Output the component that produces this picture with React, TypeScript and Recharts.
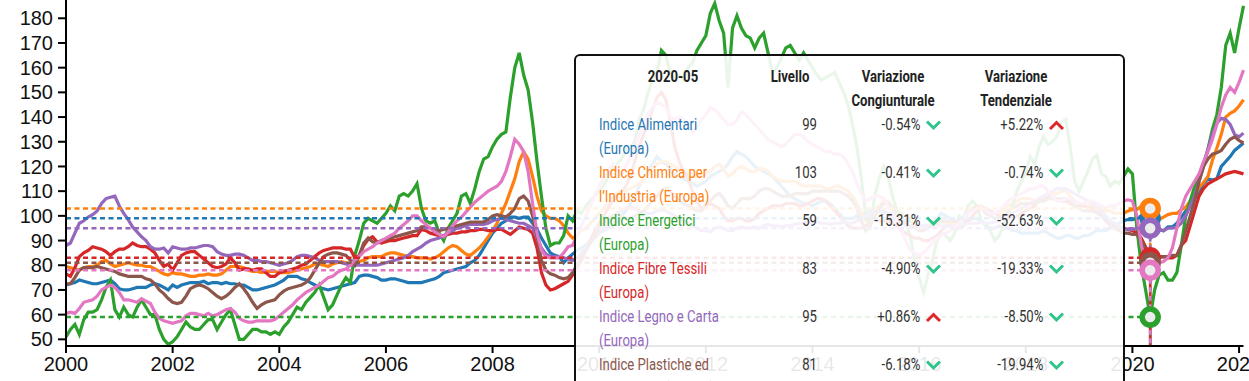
import React from "react"
import { LineChart, Line, XAxis, YAxis, ReferenceLine, ReferenceDot } from "recharts"

// monthly index values, 2000-01 .. 2022-02 (one row per year)
const alimentari = [
  72, 72.5, 73, 74, 73.5, 73, 72.5, 72.5, 73, 73.5, 74, 72.5,
  70.5, 70, 70, 70.5, 71, 71, 71, 72, 72.5, 72, 71, 70,
  72, 71, 72, 72.5, 73, 73, 73, 73.5, 72.5, 73, 73, 72.5,
  73, 72.5, 72.5, 72, 72, 71, 70, 70, 70.5, 71, 71.5, 72,
  73, 74, 75.5, 75.5, 75.5, 74.5, 74, 73, 72, 71, 70.5, 70,
  70.5, 71, 71.5, 72, 72.5, 73, 75.5, 76, 76, 75.5, 75, 74,
  74, 74.5, 74.5, 74, 73.5, 73, 73, 73, 73, 73.5, 74, 74.5,
  75.5, 77, 77.5, 78, 78.5, 79, 79.5, 81, 82, 84, 87, 90,
  93, 95, 97, 98, 99.5, 99.5, 99, 99.5, 99.5, 97, 94.5, 91,
  88, 85, 84, 83.5, 81, 83, 84.5, 86, 87, 88, 90, 92,
  93, 94, 95, 96, 98, 100, 102, 105, 108, 112, 115, 118,
  121, 124, 122, 121, 119, 117, 116, 115, 114, 113, 112, 113,
  114, 116, 117, 118, 119, 121, 124, 126, 125, 124, 122, 120,
  119, 118, 117, 116, 114, 112, 110, 108, 107, 106, 105, 105,
  104, 105, 106, 106, 105, 103, 101, 99, 99, 99, 100, 101,
  101, 102, 103, 102, 102, 101, 101, 99, 98, 98, 98, 97,
  96, 96, 96, 97, 99, 101, 100, 99, 98, 98, 98, 98,
  99, 99, 98, 96, 95, 95, 96, 95, 95, 94, 94, 93,
  93, 93, 93, 93, 94, 93, 92, 91, 91, 92, 92, 91,
  91, 92, 92, 93, 94.1, 94, 94, 95, 96, 97, 98, 98.5,
  98.5, 99, 100, 99.5, 99, 96, 94.5, 94, 95.5, 95.5, 97, 99.5,
  102, 104, 107, 110, 113, 115, 114.5, 115, 120, 122, 124, 126.5,
  128, 129.5,
]

const chimica = [
  79.5, 79, 78.5, 78, 79, 79.5, 79.5, 80, 81.5, 82, 80.5, 79.5,
  80, 80.5, 81, 80.5, 80, 80, 79.5, 79.5, 78.5, 77.5, 76.5, 76,
  77, 76.5, 76.5, 76, 75.5, 75.5, 76, 76, 76.5, 76, 76, 76.5,
  78, 79.5, 79.5, 79.5, 79, 78, 77.5, 77.5, 77, 77.5, 77.5, 77.5,
  77, 77, 77, 77.5, 78, 78.5, 79, 79.5, 80.5, 80.5, 80, 79.5,
  80.5, 81, 81.5, 81, 80.5, 80, 81.5, 82, 83, 83.5, 83.5, 83.5,
  84.5, 85, 85, 84.5, 84, 83.5, 83.5, 83, 83, 83, 82.5, 83,
  84, 85.5, 87, 88, 87.5, 86, 84.5, 84, 85.5, 87, 89, 91.5,
  94, 97, 101, 105, 110, 115, 122, 126, 123, 116, 108, 102,
  100, 99, 99, 98, 96, 93, 91, 92, 94, 95, 97, 99,
  101, 103, 105, 107, 109, 110, 110, 111, 112, 113, 115, 117,
  119, 121, 122, 122, 121, 120, 119, 118, 117, 117, 116, 116,
  117, 118, 120, 121, 119, 116, 117, 119, 120, 119, 118, 118,
  119, 119, 118, 116, 115, 114, 114, 114, 114, 113, 112, 112,
  112, 112, 112, 111, 111, 112, 112, 111, 110, 108, 105, 101,
  98, 100, 103, 104, 106, 106, 104, 102, 101, 100, 99, 97,
  96, 95, 96, 97, 98, 98, 97, 97, 97, 98, 99, 101,
  103, 104, 104, 103, 102, 101, 101, 102, 104, 105, 106, 107,
  107, 107, 106, 107, 108, 109, 109, 109, 110, 110, 108, 106,
  105, 104, 104, 104, 103.8, 103, 102, 102, 101, 101, 101, 102,
  102.5, 102.5, 104, 103.4, 103, 101, 98.5, 99.5, 100.5, 101, 101, 102.5,
  103.5, 106, 108, 111.5, 113.5, 116, 122.5, 127.5, 133, 140, 141.5, 142.5,
  144.5, 147,
]

const energetici = [
  51, 54, 56, 52, 58, 61, 61, 62, 66, 71, 74, 62,
  59, 63, 60, 59, 63, 66, 63, 60, 60, 54, 50, 48,
  49, 51, 54, 57, 55, 54, 54, 56, 58, 58, 54, 57,
  60, 62, 56, 50, 50, 52, 54, 54, 53, 53, 52, 53,
  52, 55, 57, 60, 63, 62, 65, 67, 69, 72, 67, 62,
  64, 68, 72, 75, 73, 84, 90, 97, 99, 98, 97, 99,
  101, 104, 102, 108, 109, 108, 110, 113, 103, 98, 97, 98,
  93, 90, 95, 98, 101, 108, 109, 105, 111, 118, 123, 124,
  128, 131, 133, 134, 148, 160, 166, 157, 151, 138, 122, 108,
  95, 88, 89, 89, 92, 100, 98, 102, 101, 104, 106, 108,
  110, 112, 116, 119, 121, 123, 127, 128, 130, 139, 143, 150,
  155, 158, 167, 165, 158, 155, 157, 155, 160, 162, 167, 170,
  173, 182, 186, 179, 174, 152, 176, 181, 176, 173, 172, 168,
  172, 174, 166, 158, 160, 164, 168, 169, 166, 163, 166, 163,
  160, 157, 155, 156, 157, 158, 154, 150, 145, 137, 128, 115,
  100, 96, 108, 115, 120, 116, 108, 102, 100, 97, 92, 82,
  75, 69, 76, 82, 90, 93, 92, 90, 93, 100, 99, 104,
  106, 104, 98, 96, 94, 90, 92, 96, 101, 104, 110, 114,
  118, 124, 121, 128, 132, 129, 130, 132, 138, 139, 128, 114,
  110, 114, 118, 123, 124.6, 117, 116, 112, 114, 113, 116, 119,
  117, 95, 80, 69.7, 59, 70, 76, 77, 74, 74, 77, 88,
  100, 106, 112, 116, 121, 127, 135, 141, 152, 169, 174, 166,
  176, 185,
]

const fibreTessili = [
  76.5, 75.5, 79, 83.5, 85, 86, 87.5, 87, 86.5, 85.5, 84, 85.5,
  86.5, 86.5, 87.5, 89, 88, 87.5, 87.5, 86.5, 85, 82, 79.5, 80.5,
  78, 81, 84, 85, 85.5, 85.5, 84, 82.5, 81, 79.5, 79, 79.5,
  80.5, 83, 81, 78, 78.5, 78.5, 78, 78.5, 78.5, 77, 75.5, 75.5,
  77, 77.5, 78, 78.5, 79, 80, 80.5, 82, 83.5, 85, 86, 86.5,
  87, 87, 87, 86.5, 86.5, 83, 84, 88, 90.5, 91.5, 89.5, 89,
  89.5, 90, 90, 90.5, 91, 91.5, 92, 92, 94.5, 94, 93, 92.5,
  92, 92, 92.5, 93, 93, 93.5, 93.5, 94, 94, 94.5, 94.5, 94,
  94, 94.5, 94.5, 93.5, 92.5, 94, 95.5, 95, 94.5, 93, 87, 77,
  72, 70, 70.5, 71.5, 72.5, 73.5, 76, 79, 82, 86, 90, 94,
  97, 100, 103, 106, 108, 110, 112, 116, 122, 128, 133, 138,
  143, 148, 150, 147, 138, 128, 122, 118, 115, 110, 106, 103,
  104, 105, 104, 103, 100, 98, 98, 99, 99, 98, 98, 99,
  101, 102, 103, 104, 104, 104, 105, 105, 105, 104, 104, 105,
  106, 107, 107, 106, 104, 102, 100, 98, 96, 95, 95, 95,
  96, 97, 99, 98, 98, 98, 97, 96, 94, 93, 92, 91,
  91, 90, 90, 91, 92, 94, 96, 96, 95, 95, 96, 98,
  100, 102, 103, 103, 102, 101, 100, 99, 99, 99, 100, 101,
  102, 103, 104, 106, 107, 108, 108, 107, 106, 106, 105, 104,
  104, 104, 103.5, 103, 102.9, 101, 99, 97, 96, 95.5, 95, 94.5,
  94, 93, 91, 87.3, 83, 82.5, 83, 83.5, 83, 83, 84, 88,
  90, 96, 102, 108, 111, 113, 114, 115, 116, 117, 117.5, 118,
  117.5, 117,
]

const legnoCarta = [
  88, 89, 93, 97, 98, 99.5, 100.5, 102, 105, 107, 107.5, 108,
  104, 101, 98.5, 95.5, 93.5, 91.5, 90, 87.5, 86.5, 86.5, 87, 85,
  87.5, 87, 86.5, 86.5, 87, 87, 87.5, 88, 88, 87.5, 85.5, 84.5,
  84, 84, 84.5, 84.5, 84, 83, 82, 82, 81.5, 81.5, 81, 80.5,
  80, 80.5, 81, 82, 83.5, 84, 84, 83.5, 83, 82, 81.5, 81.5,
  81.5, 81.5, 81, 80.5, 80, 80, 80, 80, 80, 80, 80, 80.5,
  81, 81.5, 82, 82.5, 83, 84, 85.5, 86.5, 87.5, 89, 90, 90.5,
  91, 92, 93, 94, 95, 95.5, 96, 96.5, 96.5, 96.5, 96.5, 97,
  98, 98.5, 99, 98.5, 98, 97.5, 97, 97, 96, 95, 91, 87,
  84.5, 83.5, 83.5, 83.5, 83, 82.5, 82, 83, 85, 87, 89, 91,
  93, 95, 97, 99, 101, 102, 103, 103.5, 103, 102, 101, 101,
  101, 102, 102.5, 102, 101, 100, 99, 98, 97, 96, 95, 94,
  94, 93.5, 95, 95.5, 95, 94, 94, 95, 95.5, 95, 95, 95.5,
  95, 96, 96.5, 96, 96, 95.5, 96, 96, 96.5, 97, 97, 97.5,
  97, 97.5, 97, 97, 96.5, 97, 97, 97.5, 97, 97, 98, 99,
  100, 101, 102, 102, 101, 100, 99, 98, 97, 96, 96, 96,
  96, 95.5, 96, 96, 96.5, 96, 96, 95.5, 96, 96, 96.5, 97,
  97, 97, 97.5, 97, 97, 97.5, 98, 99, 100, 101, 102, 103,
  104, 105, 106, 107, 108, 109, 110, 111, 111, 111, 110, 109,
  108, 107, 106, 105, 103.8, 102, 100, 98, 97, 96, 95, 94.5,
  94.5, 95, 95.5, 94.2, 95, 94.5, 94.5, 94, 95, 95, 95.5, 97,
  100, 104, 108, 114, 120, 127, 133, 137.5, 139.5, 139, 137, 133,
  132, 133.5,
]

const plastiche = [
  72.5, 72.5, 75, 78, 79, 79, 79, 79.5, 79, 78.5, 78, 77.5,
  76.5, 76, 75.5, 75.5, 75.5, 75.5, 74.5, 74, 72.5, 70, 68.5, 66.5,
  65, 64.5, 65, 67.5, 70.5, 71.5, 72, 71.5, 70.5, 69, 67.5, 66.5,
  67.5, 69, 71, 72.5, 70.5, 68, 65, 62.5, 64, 65, 65.5, 66,
  68, 69.5, 70.5, 71, 71.5, 72, 73, 75, 78, 81, 83.5, 84.5,
  85, 85, 84.5, 84, 82, 80, 84, 89, 91, 89.5, 89, 90,
  90.5, 91, 91.5, 92, 92.5, 93, 93.5, 94, 95.5, 95.5, 95, 94.5,
  94, 94.5, 95, 95.5, 96, 96.5, 97, 97.5, 97.5, 97.5, 97.5, 98.5,
  100, 100.5, 100, 99.5, 101, 103, 107, 108, 106, 100, 92, 82,
  78, 76.5, 76, 75, 74.5, 75, 77, 80, 83, 86, 89, 92,
  95, 97, 99, 100, 101, 100, 99, 99, 100, 101, 102, 104,
  106, 108, 110, 111, 110, 108, 106, 105, 104, 103, 102, 102,
  104, 106, 108, 109, 107, 104, 103, 105, 107, 107, 107, 108,
  110, 111, 111, 110, 109, 108, 108, 108, 109, 109, 109, 109,
  110, 110, 110, 110, 110, 110, 110, 109, 108, 106, 103, 98,
  94, 96, 100, 103, 105, 105, 103, 100, 98, 97, 96, 95,
  94, 94, 95, 96, 97, 98, 98, 98, 98, 98, 99, 101,
  103, 104, 103, 101, 100, 99, 99, 100, 102, 103, 104, 105,
  105, 105, 105, 106, 106, 107, 107, 107, 107, 107, 106, 104,
  103, 102, 102, 102, 101.2, 100, 98, 96, 95, 94, 93, 93,
  92.5, 92.5, 90, 86.3, 81, 82.5, 83.5, 83.5, 83.5, 84, 84, 88,
  94, 100, 106, 114, 120, 123, 125, 125.5, 126.5, 129, 131, 132,
  130.5, 129.5,
]

const altroIndice = [
  60.5, 61, 60.5, 62.5, 65, 65.5, 66, 67.5, 70, 71, 72, 71,
  69, 66, 66, 65.5, 65, 66.5, 65.5, 64.5, 61, 58.5, 57.5, 57,
  56.5, 57, 57.5, 59.5, 60.5, 60.5, 60, 59.5, 60.5, 59.5, 60, 61,
  62, 62.5, 61, 58.5, 57.5, 57, 57, 57.5, 57.5, 57.5, 57.5, 58,
  59.5, 61, 62.5, 64, 66, 67.5, 69, 70, 71, 72, 73.5, 75,
  75.5, 77, 78, 78.5, 80, 82, 83.5, 85.5, 86.5, 87.5, 89, 90,
  91, 92, 93, 95, 96.5, 98, 100, 100, 98, 96.5, 95, 93.5,
  92.5, 91.5, 93.5, 96, 98, 99.5, 101.5, 103.5, 105.5, 107, 108.5, 110,
  111, 112, 114, 118, 124, 131, 129, 126, 118, 105, 93, 86,
  83.5, 83, 83, 83, 85, 87.5, 88, 92, 96, 100, 104, 108,
  112, 115, 118, 121, 119, 117, 120, 124, 128, 133, 137, 141,
  144, 146, 145, 144, 140, 139, 140, 139, 137, 134, 136, 139,
  141, 144, 143, 141, 139, 137, 137, 139, 142, 141, 139, 137,
  135, 133, 131, 130, 129, 128, 129, 131, 133, 133, 132, 130,
  129, 128, 127, 126, 126, 125, 125, 124, 121, 118, 113, 109,
  106, 107, 108, 108, 107, 104, 101, 98, 94, 90, 86, 85,
  84, 85, 87, 89, 91, 92, 93, 94, 95, 97, 99, 101,
  102, 103, 103, 102, 101, 101, 102, 104, 106, 107, 108, 109,
  110, 111, 111, 112, 112, 110, 108, 106, 106, 107, 107, 106,
  105, 105, 106, 106, 105, 104, 103, 104, 104, 105, 106, 106.5,
  106, 100, 88, 81, 78, 80.5, 81, 81.5, 83, 87, 95, 103,
  108, 111, 114, 117, 122, 126, 131, 137, 144, 149, 152, 150,
  154, 159,
]

const START_YEAR = 2000
const xTickYears = [2000, 2002, 2004, 2006, 2008, 2010, 2012, 2014, 2016, 2018, 2020, 2022]
const yTicks = [50, 60, 70, 80, 90, 100, 110, 120, 130, 140, 150, 160, 170, 180]
const highlightMonth = "2020-05"

// tooltip table
const tooltipLabels = [
  ["Indice Alimentari", "(Europa)"],
  ["Indice Chimica per", "l\u2019Industria (Europa)"],
  ["Indice Energetici", "(Europa)"],
  ["Indice Fibre Tessili", "(Europa)"],
  ["Indice Legno e Carta", "(Europa)"],
  ["Indice Plastiche ed", "Elastomeri (Europa)"],
]
const tooltipLevels = [99, 103, 59, 83, 95, 81]
const tooltipCong = ["-0.54%", "-0.41%", "-15.31%", "-4.90%", "+0.86%", "-6.18%"]
const tooltipTend = ["+5.22%", "-0.74%", "-52.63%", "-19.33%", "-8.50%", "-19.94%"]

const series = [
  { key: "alimentari", color: "#1f77b4", values: alimentari },
  { key: "chimica", color: "#ff7f0e", values: chimica },
  { key: "energetici", color: "#2ca02c", values: energetici },
  { key: "fibreTessili", color: "#d62728", values: fibreTessili },
  { key: "legnoCarta", color: "#9467bd", values: legnoCarta },
  { key: "plastiche", color: "#8c564b", values: plastiche },
  { key: "altroIndice", color: "#e377c2", values: altroIndice },
]

const W = 1249
const H = 381
const Y_MIN = 47.3
const Y_MAX = 187.4
const LAST_M = alimentari.length - 1

const chartData = alimentari.map((_, i) => {
  const row: Record<string, number> = { m: i }
  series.forEach((s) => { row[s.key] = s.values[i] })
  return row
})

const [hy, hmo] = highlightMonth.split("-").map(Number)
const hIdx = (hy - START_YEAR) * 12 + hmo - 1

const axisFont = { fontSize: 20, fill: "#111", fontFamily: "'Liberation Sans', Arial, sans-serif" }

const SX = 0.82
const UP = "#e0262a"
const DOWN = "#2ec48a"

function Txt({ x, cy, align, color, bold, children }: any) {
  const style: React.CSSProperties = {
    position: "absolute",
    top: cy - 12,
    height: 24,
    lineHeight: "24px",
    whiteSpace: "nowrap",
    fontSize: 16,
    fontWeight: bold ? 700 : 400,
    color,
  }
  if (align === "left") {
    style.left = x
    style.transformOrigin = "left center"
    style.transform = `scaleX(${SX})`
  } else if (align === "right") {
    style.right = W - x
    style.transformOrigin = "right center"
    style.transform = `scaleX(${SX})`
  } else {
    style.left = x
    style.transformOrigin = "center"
    style.transform = `translateX(-50%) scaleX(${SX})`
  }
  return <div style={style}>{children}</div>
}

function Chevron({ x, cy, up }: { x: number; cy: number; up: boolean }) {
  return (
    <svg width={17} height={12} style={{ position: "absolute", left: x - 1.5, top: cy - 6.5 }}>
      <polyline
        points={up ? "2,10 8.5,3.5 15,10" : "2,2.5 8.5,9 15,2.5"}
        fill="none"
        stroke={up ? UP : DOWN}
        strokeWidth={3}
      />
    </svg>
  )
}

function TooltipBox() {
  const headTop = 77
  const rowTop = 125
  const rowH = 48
  return (
    <>
      <div
        style={{
          position: "absolute",
          left: 574,
          top: 54,
          width: 547,
          height: 360,
          border: "2px solid #111",
          borderRadius: 6,
          background: "rgba(255,255,255,0.9)",
        }}
      />
      <div style={{ position: "absolute", left: 0, top: 0, width: W, height: H, fontFamily: "Roboto, sans-serif" }}>
        <Txt x={673} cy={headTop} align="center" color="#222" bold>{highlightMonth}</Txt>
        <Txt x={790} cy={headTop} align="center" color="#222" bold>Livello</Txt>
        <Txt x={893} cy={headTop} align="center" color="#222" bold>Variazione</Txt>
        <Txt x={893} cy={headTop + 24} align="center" color="#222" bold>Congiunturale</Txt>
        <Txt x={1016} cy={headTop} align="center" color="#222" bold>Variazione</Txt>
        <Txt x={1016} cy={headTop + 24} align="center" color="#222" bold>Tendenziale</Txt>
        {tooltipLabels.map((lines, i) => {
          const cy = rowTop + i * rowH
          const color = series[i].color
          return (
            <React.Fragment key={i}>
              <Txt x={599} cy={cy} align="left" color={color}>{lines[0]}</Txt>
              <Txt x={599} cy={cy + 24} align="left" color={color}>{lines[1]}</Txt>
              <Txt x={817} cy={cy} align="right" color="#333">{tooltipLevels[i]}</Txt>
              <Txt x={920} cy={cy} align="right" color="#333">{tooltipCong[i]}</Txt>
              <Chevron x={926} cy={cy} up={tooltipCong[i].startsWith("+")} />
              <Txt x={1043} cy={cy} align="right" color="#333">{tooltipTend[i]}</Txt>
              <Chevron x={1049} cy={cy} up={tooltipTend[i].startsWith("+")} />
            </React.Fragment>
          )
        })}
      </div>
    </>
  )
}

export default function App() {
  const xTicks = xTickYears.map((y) => (y - START_YEAR) * 12)
  return (
    <div style={{ position: "fixed", left: 0, top: 0, width: W, height: H, overflow: "hidden", background: "#fff" }}>
      <LineChart width={W} height={H} data={chartData} margin={{ top: 0, right: 5.5, bottom: 0, left: 0 }}>
        <XAxis
          type="number"
          dataKey="m"
          domain={[0, LAST_M]}
          ticks={xTicks}
          interval={0}
          tickFormatter={(m: number) => String(START_YEAR + m / 12)}
          height={35}
          axisLine={{ stroke: "#000", strokeWidth: 2 }}
          tickLine={{ stroke: "#000", strokeWidth: 2 }}
          tickSize={7}
          tickMargin={4}
          tick={axisFont}
        />
        <YAxis
          type="number"
          domain={[Y_MIN, Y_MAX]}
          allowDataOverflow
          ticks={yTicks}
          interval={0}
          width={66}
          axisLine={{ stroke: "#000", strokeWidth: 2 }}
          tickLine={{ stroke: "#000", strokeWidth: 2 }}
          tickSize={8}
          tickMargin={5}
          tick={axisFont}
        />
        {series.map((s) => (
          <Line
            key={s.key}
            dataKey={s.key}
            type="linear"
            stroke={s.color}
            strokeWidth={3.2}
            dot={false}
            activeDot={false}
            isAnimationActive={false}
          />
        ))}
        {series.map((s) => (
          <ReferenceLine
            key={"h" + s.key}
            segment={[{ x: 0, y: s.values[hIdx] }, { x: hIdx, y: s.values[hIdx] }]}
            stroke={s.color}
            strokeWidth={2.5}
            strokeDasharray="5 3.5"
          />
        ))}
        {series.map((s) => (
          <ReferenceLine
            key={"v" + s.key}
            segment={[{ x: hIdx, y: s.values[hIdx] }, { x: hIdx, y: Y_MIN }]}
            stroke={s.color}
            strokeWidth={2.5}
            strokeDasharray="5 3.5"
          />
        ))}
        {series.map((s) => (
          <ReferenceDot
            key={"d" + s.key}
            x={hIdx}
            y={s.values[hIdx]}
            r={8}
            fill="#ececec"
            stroke={s.color}
            strokeWidth={5.5}
          />
        ))}
      </LineChart>
      <TooltipBox />
    </div>
  )
}
